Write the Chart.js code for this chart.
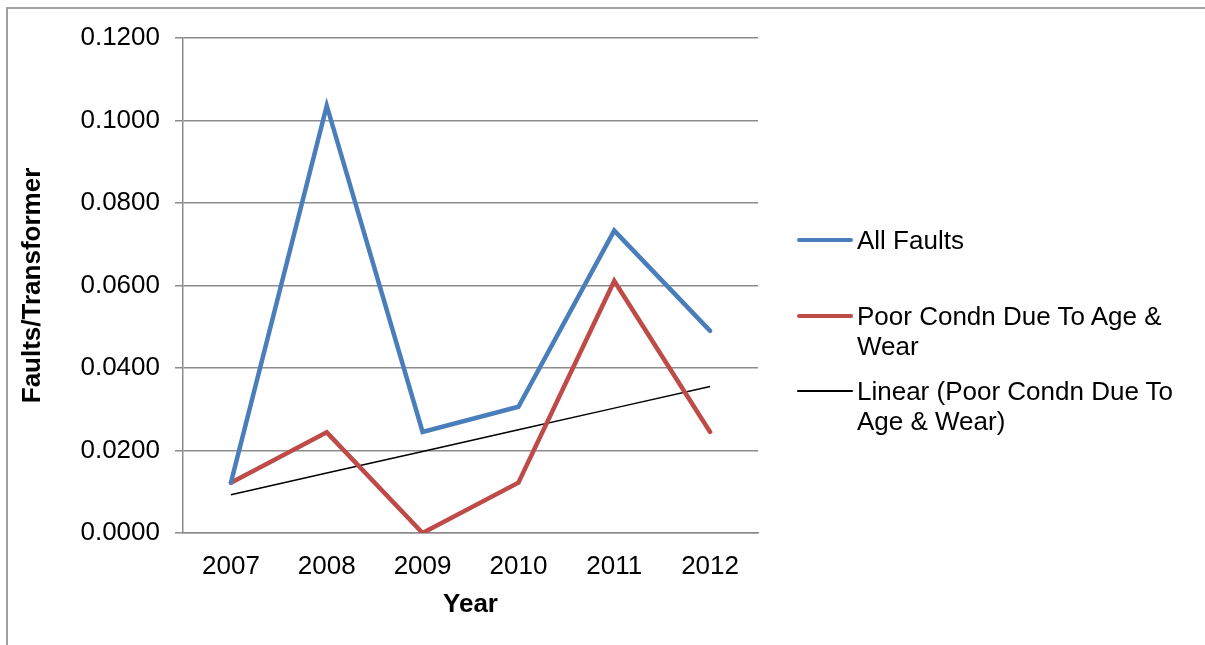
<!DOCTYPE html>
<html>
<head>
<meta charset="utf-8">
<title>Faults per Transformer</title>
<script src="https://cdn.jsdelivr.net/npm/chart.js@4/dist/chart.umd.min.js"></script>
<style>
    body { margin: 0; background: #fff; font-family: "Liberation Sans", Arial, sans-serif; }
    #wrap { position: relative; width: 1205px; height: 645px; overflow: hidden; }
    #frame { position: absolute; left: 6px; top: 7px; width: 1300px; height: 800px;
             border-left: 2px solid #a0a0a0; border-top: 2px solid #a0a0a0; }
    #chartBox { position: absolute; left: 0; top: 0; width: 1205px; height: 645px; }
    .key { position: absolute; left: 797px; font-size: 26px; line-height: 30px; color: #000; }
    .key .swatch { position: absolute; left: 0; width: 56px; border-radius: 3px; }
    .key .label { position: absolute; left: 60px; white-space: nowrap; }
</style>
</head>
<body>
<div id="wrap">
    <div id="frame"></div>
    <div id="chartBox"><canvas id="faultChart"></canvas></div>
    <div id="legend"></div>
</div>
<script>
var years = ["2007", "2008", "2009", "2010", "2011", "2012"];
var allFaults = [0.0122, 0.1036, 0.0245, 0.0306, 0.0733, 0.0490];
var poorCondition = [0.0122, 0.0244, 0.0000, 0.0122, 0.0611, 0.0245];
var yTicks = [0, 0.02, 0.04, 0.06, 0.08, 0.10, 0.12];

var blue = '#4a7ebb';
var red = '#be4b48';
var gridGray = '#8c8c8c';

// least squares trend of the poor condition series, like a spreadsheet "Linear" trendline
function linearTrend(values) {
    var n = values.length, sx = 0, sy = 0, sxy = 0, sxx = 0;
    values.forEach(function (v, i) {
        var x = i + 1;
        sx += x; sy += v; sxy += x * v; sxx += x * x;
    });
    var slope = (n * sxy - sx * sy) / (n * sxx - sx * sx);
    var intercept = (sy - slope * sx) / n;
    return values.map(function (v, i) { return intercept + slope * (i + 1); });
}
var poorTrend = linearTrend(poorCondition);

var font = { family: '"Liberation Sans", Arial, sans-serif', size: 26 };

var ctx = document.getElementById('faultChart');
var faultChart = new Chart(ctx, {
    type: 'line',
    data: {
        labels: years,
        datasets: [
            {
                label: 'All Faults',
                data: allFaults,
                borderColor: blue,
                backgroundColor: blue,
                borderWidth: 4.5,
                borderCapStyle: 'round',
                pointRadius: 0,
                tension: 0,
                fill: false
            },
            {
                label: 'Poor Condn Due To Age & Wear',
                data: poorCondition,
                borderColor: red,
                backgroundColor: red,
                borderWidth: 4.5,
                borderCapStyle: 'round',
                pointRadius: 0,
                tension: 0,
                fill: false
            },
            {
                label: 'Linear (Poor Condn Due To Age & Wear)',
                data: poorTrend,
                borderColor: '#000',
                backgroundColor: '#000',
                borderWidth: 1.5,
                pointRadius: 0,
                tension: 0,
                fill: false
            }
        ]
    },
    options: {
        responsive: true,
        maintainAspectRatio: false,
        animation: false,
        layout: { padding: { left: 0, top: 38, right: 447, bottom: 0 } },
        plugins: {
            legend: { display: false },
            tooltip: { enabled: false }
        },
        scales: {
            x: {
                offset: true,
                grid: { display: false, drawTicks: false },
                border: { display: true, color: gridGray, width: 1.5 },
                ticks: { color: '#000', font: font, padding: 18, maxRotation: 0 },
                title: {
                    display: true, text: 'Year', color: '#000',
                    font: { family: font.family, size: 26, weight: 'bold' },
                    padding: { top: 0, bottom: 25 }
                },
                afterFit: function (scale) { scale.height = 645 - 533; }
            },
            y: {
                min: 0,
                max: 0.12,
                afterBuildTicks: function (scale) {
                    scale.ticks = yTicks.map(function (v) { return { value: v }; });
                },
                grid: { color: gridGray, lineWidth: 1.5, tickLength: 8 },
                border: { display: true, color: gridGray, width: 1.5 },
                ticks: {
                    color: '#000', font: font, padding: 15,
                    callback: function (v) { return Number(v).toFixed(4); }
                },
                title: {
                    display: true, text: 'Faults/Transformer', color: '#000',
                    font: { family: font.family, size: 26, weight: 'bold' },
                    padding: { top: 17, bottom: 0 }
                },
                afterFit: function (scale) { scale.width = 183; }
            }
        }
    }
});

// legend drawn beside the plot, with the wrapping of the long series names
var legendItems = [
    { top: 225, color: blue, width: 4.5, lines: ['All Faults'] },
    { top: 301, color: red, width: 4.5, lines: ['Poor Condn Due To Age &', 'Wear'] },
    { top: 376, color: '#000', width: 1.5, lines: ['Linear (Poor Condn Due To', 'Age & Wear)'] }
];
var legend = document.getElementById('legend');
legendItems.forEach(function (item) {
    var key = document.createElement('div');
    key.className = 'key';
    key.style.top = item.top + 'px';
    var swatch = document.createElement('div');
    swatch.className = 'swatch';
    swatch.style.background = item.color;
    swatch.style.height = item.width + 'px';
    swatch.style.top = (15 - item.width / 2) + 'px';
    var label = document.createElement('div');
    label.className = 'label';
    item.lines.forEach(function (t, i) {
        if (i) label.appendChild(document.createElement('br'));
        label.appendChild(document.createTextNode(t));
    });
    key.appendChild(swatch);
    key.appendChild(label);
    legend.appendChild(key);
});
</script>
</body>
</html>
